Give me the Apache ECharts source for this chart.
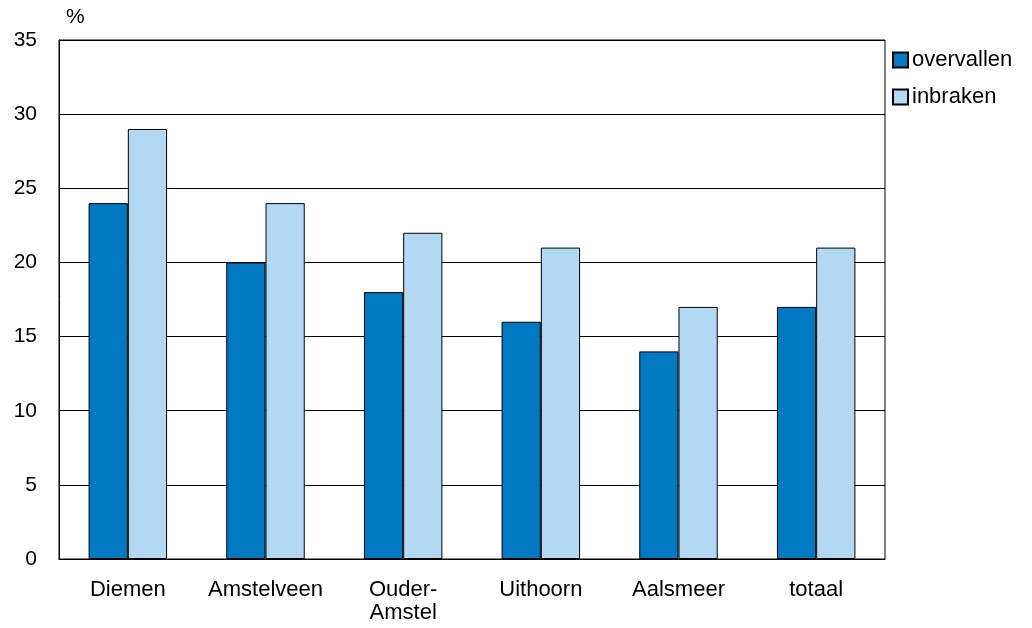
<!DOCTYPE html>
<html><head><meta charset="utf-8">
<script src="https://cdn.jsdelivr.net/npm/echarts@6/dist/echarts.min.js"></script>
<style>html,body{margin:0;padding:0;background:#fff;overflow:hidden}#c{width:1032px;height:628px}</style>
</head><body><div id="c"></div>
<script>
const categories = ["Diemen", "Amstelveen", "Ouder-\nAmstel", "Uithoorn", "Aalsmeer", "totaal"];
const overvallen = [24, 20, 18, 16, 14, 17];
const inbraken = [29, 24, 22, 21, 17, 21];
const seriesNames = ["overvallen", "inbraken"];
const yTicks = { min: 0, max: 35, interval: 5 };

const chart = echarts.init(document.getElementById('c'), null, {renderer: 'canvas'});
const font = '"Liberation Sans", Arial, sans-serif';
chart.setOption({
  animation: false,
  backgroundColor: '#fff',
  textStyle: { fontFamily: font },
  grid: { left: 59, right: 147, top: 40, bottom: 69, show: true, borderColor: '#000', borderWidth: 1,
          containLabel: false, outerBoundsMode: 'none' },
  legend: {
    orient: 'vertical', left: 892, top: 49, itemWidth: 15, itemHeight: 15, itemGap: 15,
    padding: 0,
    textStyle: { fontSize: 22, lineHeight: 22, color: '#000', fontFamily: font, padding: [0,0,0,-1] },
    data: seriesNames.map(n => ({ name: n, icon: 'rect' }))
  },
  graphic: [{ type: 'text', left: 66, top: 7, style: { text: '%', fontSize: 21, fill: '#000', fontFamily: font } }],
  xAxis: {
    type: 'category', data: categories,
    axisLine: { lineStyle: { color: '#000', width: 1 } },
    axisTick: { show: false },
    axisLabel: { interval: 0, fontSize: 22, color: '#000', margin: 19, lineHeight: 23, fontFamily: font }
  },
  yAxis: {
    type: 'value', min: yTicks.min, max: yTicks.max, interval: yTicks.interval,
    axisLine: { show: true, lineStyle: { color: '#000' } },
    axisTick: { show: false },
    axisLabel: { fontSize: 21, color: '#000', margin: 22, fontFamily: font },
    splitLine: { lineStyle: { color: '#000', width: 1 } }
  },
  series: [
    { name: seriesNames[0], type: 'bar', data: overvallen, barGap: '0%', barCategoryGap: '43%',
      itemStyle: { color: '#0079c2', borderColor: '#000', borderWidth: 1 } },
    { name: seriesNames[1], type: 'bar', data: inbraken, barGap: '0%', barCategoryGap: '43%',
      itemStyle: { color: '#b3d8f3', borderColor: '#000', borderWidth: 1 } }
  ]
});
</script></body></html>
